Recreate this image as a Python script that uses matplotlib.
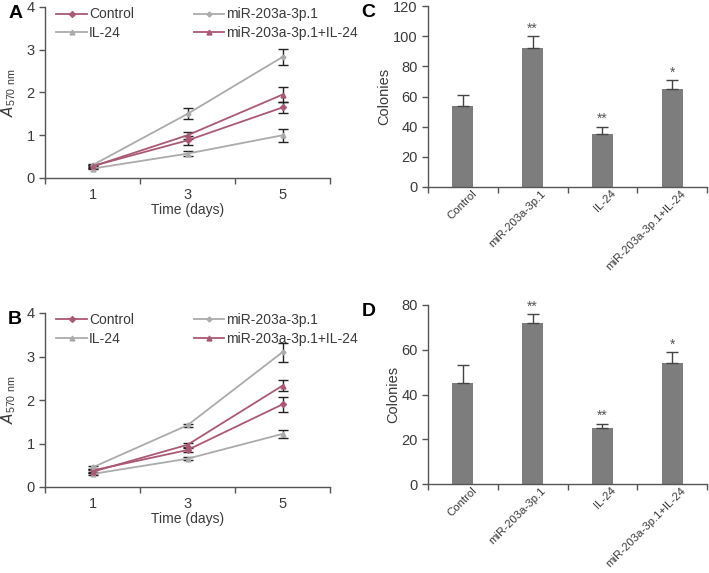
import matplotlib
matplotlib.use("Agg")
import matplotlib.pyplot as plt
import numpy as np

plt.rcParams['font.family'] = ['Liberation Sans', 'DejaVu Sans']

days = ["1", "3", "5"]
series = ["Control", "miR-203a-3p.1", "IL-24", "miR-203a-3p.1+IL-24"]

# Panel A
a_control = [0.28, 0.88, 1.65]
a_control_err = [0.03, 0.10, 0.13]
a_mir = [0.30, 1.50, 2.83]
a_mir_err = [0.03, 0.13, 0.18]
a_il24 = [0.22, 0.57, 1.00]
a_il24_err = [0.02, 0.05, 0.15]
a_combo = [0.27, 1.00, 1.95]
a_combo_err = [0.03, 0.08, 0.17]

# Panel B
b_control = [0.38, 0.85, 1.90]
b_control_err = [0.03, 0.05, 0.18]
b_mir = [0.45, 1.42, 3.10]
b_mir_err = [0.03, 0.03, 0.22]
b_il24 = [0.30, 0.65, 1.22]
b_il24_err = [0.03, 0.04, 0.10]
b_combo = [0.35, 0.97, 2.33]
b_combo_err = [0.03, 0.05, 0.12]

groups = ["Control", "miR-203a-3p.1", "IL-24", "miR-203a-3p.1+IL-24"]
c_vals = [54, 92, 35, 65]
c_err = [7, 8, 5, 6]
c_stars = ["", "**", "**", "*"]
d_vals = [45, 72, 25, 54]
d_err = [8, 4, 2, 5]
d_stars = ["", "**", "**", "*"]

RED = "#aa5874"
GRAY = "#ababab"
BAR = "#7d7d7d"
TXT = "#3a3a3a"
AX = "#555555"

W, H = 709, 573
fig = plt.figure(figsize=(W / 100, H / 100), dpi=100)


def style_axes(ax):
    for s in ["top", "right"]:
        ax.spines[s].set_visible(False)
    for s in ["left", "bottom"]:
        ax.spines[s].set_color(AX)
        ax.spines[s].set_linewidth(1.0)
    ax.tick_params(axis='both', which='major', colors=AX, labelcolor=TXT,
                   direction='out', length=4, width=1.0, labelsize=10.5)


def line_panel(rect, data, letter):
    ax = fig.add_axes(rect)
    style_axes(ax)
    x = np.arange(len(days)) + 0.5
    specs = [
        ("Control", RED, "D", 3),
        ("miR-203a-3p.1", GRAY, "D", 2.5),
        ("IL-24", GRAY, "^", 3.5),
        ("miR-203a-3p.1+IL-24", RED, "^", 3.5),
    ]
    handles = []
    for (name, col, mk, ms), (vals, errs) in zip(specs, data):
        ax.errorbar(x, vals, yerr=errs, fmt='none', ecolor="#222222",
                    elinewidth=1.0, capsize=3.5, capthick=1.0, zorder=2)
        h, = ax.plot(x, vals, color=col, marker=mk, markersize=ms, lw=1.3,
                     label=name, zorder=3)
        handles.append(h)
    ax.set_xlim(0, 3)
    ax.set_ylim(0, 4)
    ax.set_yticks([0, 1, 2, 3, 4])
    ax.set_xticks([0, 1, 2, 3])
    ax.set_xticklabels([])
    ax.set_xticks(x, minor=True)
    ax.set_xticklabels(days, minor=True)
    ax.tick_params(axis='x', which='minor', length=0, labelsize=10.5,
                   labelcolor=TXT, pad=7)
    ax.set_xlabel("Time (days)", fontsize=10, color=TXT, labelpad=1)
    ax.set_ylabel(r"$A_{\mathregular{570\ nm}}$", fontsize=11, color=TXT,
                  labelpad=6)
    order = [handles[0], handles[2], handles[1], handles[3]]
    leg = ax.legend(order, [h.get_label() for h in order], ncol=2,
                    loc='upper left', bbox_to_anchor=(0.02, 1.03),
                    frameon=False, fontsize=10, handlelength=2.2,
                    handletextpad=0.15, columnspacing=4.3, labelspacing=0.35,
                    borderaxespad=0.0)
    for t in leg.get_texts():
        t.set_color(TXT)
    fig.text(rect[0] - 0.052, rect[1] + rect[3] - 0.012, letter,
             fontsize=14, fontweight='bold', va='center', ha='left')
    return ax


def bar_panel(rect, vals, errs, stars, ymax, step, letter):
    ax = fig.add_axes(rect)
    style_axes(ax)
    x = np.arange(len(groups)) + 0.5
    ax.bar(x, vals, width=0.3, color=BAR, zorder=2)
    ax.errorbar(x, vals, yerr=[np.zeros(len(errs)), errs], fmt='none',
                ecolor="#444444", elinewidth=1.0, capsize=4, capthick=1.0,
                zorder=3)
    for xi, v, e, s in zip(x, vals, errs, stars):
        if s:
            ax.text(xi, v + e + ymax * 0.003, s, ha='center', va='bottom',
                    fontsize=10, color="#555555")
    ax.set_xlim(0, 4)
    ax.set_ylim(0, ymax)
    ax.set_yticks(np.arange(0, ymax + 1, step))
    ax.set_xticks([0, 1, 2, 3, 4])
    ax.set_xticklabels([])
    ax.set_xticks(x + 0.12, minor=True)
    ax.set_xticklabels(groups, minor=True, rotation=45, ha='right',
                       rotation_mode='anchor')
    ax.tick_params(axis='x', which='minor', length=0, labelsize=8.2,
                   labelcolor=TXT, pad=1)
    ax.set_ylabel("Colonies", fontsize=10.5, color=TXT, labelpad=1)
    fig.text(rect[0] - 0.094, rect[1] + rect[3] - 0.012, letter,
             fontsize=14, fontweight='bold', va='center', ha='left')
    return ax


line_panel([45 / W, 1 - 178 / H, 285 / W, 171 / H],
           [(a_control, a_control_err), (a_mir, a_mir_err),
            (a_il24, a_il24_err), (a_combo, a_combo_err)], "A")
line_panel([45 / W, 1 - 487 / H, 285 / W, 174 / H],
           [(b_control, b_control_err), (b_mir, b_mir_err),
            (b_il24, b_il24_err), (b_combo, b_combo_err)], "B")
bar_panel([428 / W, 1 - 187 / H, 279 / W, 181 / H], c_vals, c_err, c_stars,
          120, 20, "C")
bar_panel([428 / W, 1 - 484 / H, 279 / W, 179 / H], d_vals, d_err, d_stars,
          80, 20, "D")

fig.savefig("out.png", dpi=100)
